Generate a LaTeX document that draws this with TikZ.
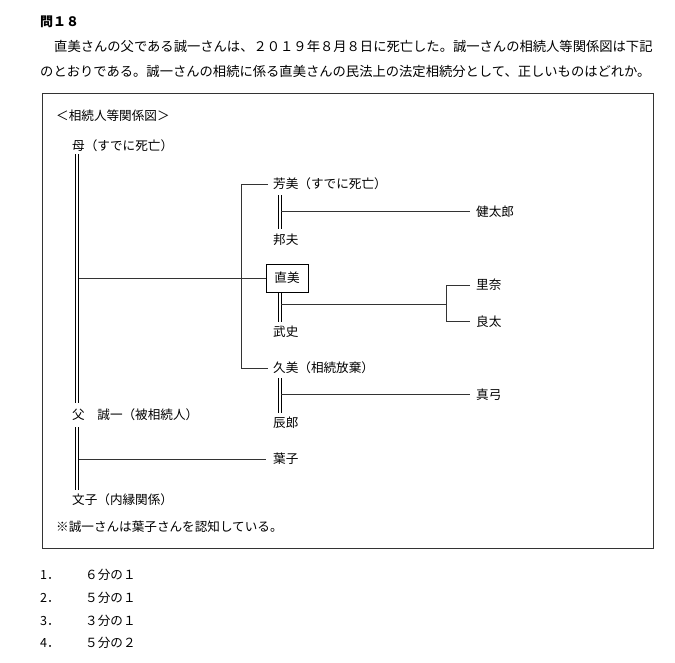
\documentclass[tikz,border=0pt]{standalone}
\usepackage{fontspec}
\setmainfont{Noto Sans CJK JP}
\begin{document}
\begin{tikzpicture}[x=1pt,y=-1pt,
  lab/.style={anchor=west,inner sep=0pt,font=\fontsize{12.6}{13}\selectfont},
  txt/.style={anchor=west,inner sep=0pt,font=\fontsize{13.3}{14}\selectfont},
  ln/.style={line width=0.8pt,draw=black!80},
  dbl/.style={line width=0.7pt,draw=black}]
\useasboundingbox (0,0) rectangle (675,662);
\node[txt,font=\bfseries\fontsize{13}{14}\selectfont] (q) at (40,22) {問１８};
\node[txt] (p1) at (54,46) {直美さんの父である誠一さんは、２０１９年８月８日に死亡した。誠一さんの相続人等関係図は下記};
\node[txt] (p2) at (40,71) {のとおりである。誠一さんの相続に係る直美さんの民法上の法定相続分として、正しいものはどれか。};
\draw[line width=0.9pt,draw=black!80] (42,93) rectangle (653,548);
\node[lab] (t) at (56,116) {＜相続人等関係図＞};
\node[lab] (mo) at (72,146) {母（すでに死亡）};
\node[lab] (fa) at (72,415) {父　誠一（被相続人）};
\node[lab] (fu) at (72,500) {文子（内縁関係）};
\node[lab] (nt) at (56,527) {※誠一さんは葉子さんを認知している。};
\node[lab] (yo) at (273,184) {芳美（すでに死亡）};
\node[lab] (ku) at (273,240) {邦夫};
\node[draw,line width=0.8pt,minimum width=42pt,minimum height=28pt,inner sep=0pt,font=\fontsize{12.6}{13}\selectfont] (na) at (287,278) {直美};
\node[lab] (ta) at (273,332) {武史};
\node[lab] (hi) at (273,368) {久美（相続放棄）};
\node[lab] (tt) at (273,423) {辰郎};
\node[lab] (ha) at (273,459) {葉子};
\node[lab] (ke) at (476,212) {健太郎};
\node[lab] (ri) at (476,285) {里奈};
\node[lab] (ry) at (476,322) {良太};
\node[lab] (ma) at (476,395) {真弓};
% double lines
\foreach \x in {75.7,78.7}{
 \draw[dbl] (\x,154) -- (\x,403);
 \draw[dbl] (\x,427) -- (\x,490);}
\foreach \x in {278,281}{
 \draw[dbl] (\x,195) -- (\x,229);
 \draw[dbl] (\x,292) -- (\x,322);
 \draw[dbl] (\x,378) -- (\x,413);}
% connectors
\draw[ln] (79,278) -- (na.west);
\draw[ln] (268,184) -- (241,184) -- (241,368) -- (268,368);
\draw[ln] (281,211) -- (470,211);
\draw[ln] (281,304) -- (446,304);
\draw[ln] (470,285) -- (446,285) -- (446,321) -- (470,321);
\draw[ln] (281,394) -- (470,394);
\draw[ln] (79,459) -- (266,459);
% options
\foreach \i/\y/\s in {1/575/６分の１,2/598/５分の１,3/621/３分の１,4/643/５分の２}{
 \node[lab] (n\i) at (40,\y) {\i．};
 \node[lab] (o\i) at (85,\y) {\s};}
\end{tikzpicture}
\end{document}
